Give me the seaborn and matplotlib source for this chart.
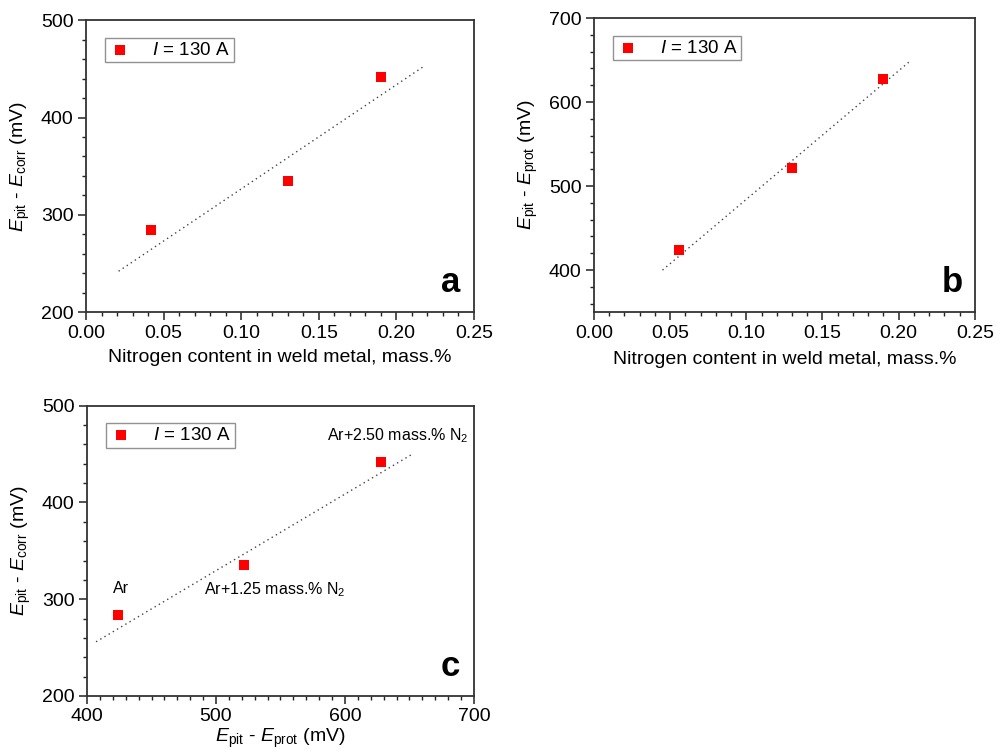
import matplotlib
matplotlib.use("Agg")
import matplotlib.pyplot as plt
from matplotlib.ticker import MultipleLocator, FormatStrFormatter
import seaborn as sns

# ---- data ----
n_a = [0.042, 0.130, 0.190]
pit_corr = [284, 335, 442]
n_b = [0.056, 0.130, 0.190]
pit_prot = [424, 522, 628]

fit_a_x = [0.021, 0.218]
fit_a_y = [242, 453]
fit_b_x = [0.045, 0.207]
fit_b_y = [400, 648]
fit_c_x = [407, 651]
fit_c_y = [256, 449]

legend_label = "$I$ = 130 A"
x_label_n = "Nitrogen content in weld metal, mass.%"
y_label_corr = r"$E_{\mathrm{pit}}$ - $E_{\mathrm{corr}}$ (mV)"
y_label_prot = r"$E_{\mathrm{pit}}$ - $E_{\mathrm{prot}}$ (mV)"
c_annot_text = ["Ar", "Ar+1.25 mass.% N$_2$", "Ar+2.50 mass.% N$_2$"]
c_annot_x = [420, 491, 586]
c_annot_y = [311, 310, 469]
panel_letters = ["a", "b", "c"]

# ---- style ----
sns.set_style("ticks")
plt.rcParams["font.family"] = ["Liberation Sans", "DejaVu Sans"]
plt.rcParams["mathtext.fontset"] = "custom"
plt.rcParams["mathtext.rm"] = "Liberation Sans"
plt.rcParams["mathtext.it"] = "Liberation Sans:italic"
plt.rcParams["mathtext.bf"] = "Liberation Sans:bold"
plt.rcParams["text.color"] = "black"
plt.rcParams["axes.labelcolor"] = "black"

fig = plt.figure(figsize=(10.05, 7.52), dpi=100)
ax_a = fig.add_axes([0.0856, 0.585, 0.386, 0.388])
ax_b = fig.add_axes([0.591, 0.585, 0.379, 0.391])
ax_c = fig.add_axes([0.0866, 0.0745, 0.385, 0.386])

RED = "#ff0000"
FS = 14


def style_axes(ax, xlim, ylim, xmaj, xmin, ymaj, ymin):
    ax.set_xlim(*xlim)
    ax.set_ylim(*ylim)
    ax.xaxis.set_major_locator(MultipleLocator(xmaj))
    ax.xaxis.set_minor_locator(MultipleLocator(xmin))
    ax.yaxis.set_major_locator(MultipleLocator(ymaj))
    ax.yaxis.set_minor_locator(MultipleLocator(ymin))
    ax.tick_params(which="major", direction="out", length=6, width=1.1,
                   labelsize=FS, colors="#222222", labelcolor="black", pad=3)
    ax.tick_params(which="minor", direction="out", length=3, width=1.0,
                   colors="#222222")
    ax.tick_params(top=False, right=False, which="both")
    for s in ax.spines.values():
        s.set_visible(True)
        s.set_linewidth(1.3)
        s.set_color("#333333")


def draw(ax, x, y, fx, fy):
    sns.lineplot(x=fx, y=fy, ax=ax, color="#444444", lw=1.0,
                 linestyle=(0, (1, 2.5)), legend=False)
    sns.scatterplot(x=x, y=y, ax=ax, marker="s", s=48, color=RED,
                    edgecolor=RED, linewidth=0, label=legend_label, zorder=3)
    leg = ax.legend(loc="upper left", bbox_to_anchor=(0.05, 0.94),
                    fontsize=13.5, frameon=True, fancybox=False,
                    edgecolor="#777777", handletextpad=1.1,
                    borderpad=0.2, handlelength=1.2, borderaxespad=0)
    leg.get_frame().set_linewidth(1.0)


draw(ax_a, n_a, pit_corr, fit_a_x, fit_a_y)
style_axes(ax_a, (0, 0.25), (200, 500), 0.05, 0.01, 100, 20)
ax_a.xaxis.set_major_formatter(FormatStrFormatter("%.2f"))
ax_a.set_xlabel(x_label_n, fontsize=FS, labelpad=5)
ax_a.set_ylabel(y_label_corr, fontsize=FS, labelpad=6)

draw(ax_b, n_b, pit_prot, fit_b_x, fit_b_y)
style_axes(ax_b, (0, 0.25), (350, 700), 0.05, 0.01, 100, 20)
ax_b.xaxis.set_major_formatter(FormatStrFormatter("%.2f"))
ax_b.set_xlabel(x_label_n, fontsize=FS, labelpad=7)
ax_b.set_ylabel(y_label_prot, fontsize=FS, labelpad=6)

draw(ax_c, pit_prot, pit_corr, fit_c_x, fit_c_y)
style_axes(ax_c, (400, 700), (200, 500), 100, 10, 100, 20)
ax_c.set_xlabel(y_label_prot, fontsize=FS, labelpad=1)
ax_c.set_ylabel(y_label_corr, fontsize=FS, labelpad=6)
for t, tx, ty in zip(c_annot_text, c_annot_x, c_annot_y):
    ax_c.text(tx, ty, t, fontsize=11.5, ha="left", va="center")

for ax, letter in zip([ax_a, ax_b, ax_c], panel_letters):
    ax.text(0.94, 0.10, letter, transform=ax.transAxes, fontsize=25,
            fontweight="bold", ha="center", va="center", color="black")

fig.savefig("out.png", dpi=100)
